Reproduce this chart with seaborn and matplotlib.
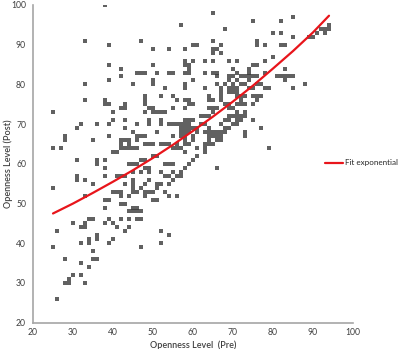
import numpy as np
import pandas as pd
import matplotlib
matplotlib.use('Agg')
import matplotlib.pyplot as plt
import seaborn as sns

#---------------------------------------------------------
f_out='out.png'
clr_pt='#3a3a3a'
clr_fit='#e8151b'
clr_axis='#a6a6a6'
clr_txt='#404040'

#points (pre, post)
pts=[
	(25,73),(25,64),(25,54),(25,39),(26,43),(26,26),(27,64),(28,67),(28,66),(28,36),(28,30),(29,30),(29,31),(30,45),(30,32),
	(31,69),(31,61),(31,57),(31,56),(32,70),(32,44),(32,40),(32,35),(32,32),(33,91),(33,80),(33,76),(33,56),(33,52),(33,45),
	(33,44),(33,30),(34,46),(34,41),(34,40),(34,34),(35,66),(35,55),(35,46),(35,38),(35,36),
	(36,70),(36,61),(36,60),(36,42),(36,41),(36,36),
	(38,100),(38,76),(38,75),(38,61),(38,59),(38,57),(38,51),(38,49),(38,45),
	(39,90),(39,85),(39,81),(39,75),(39,70),(39,67),(39,51),(39,46),(39,40),
	(40,73),(40,71),(40,63),(40,53),(40,45),(40,41),
	(41,63),(41,57),(41,53),(41,44),
	(42,84),(42,82),(42,74),(42,66),(42,65),(42,64),(42,57),(42,53),(42,52),(42,50),(42,46),
	(43,75),(43,74),(43,71),(43,69),(43,66),(43,64),(43,57),(43,55),(43,50),(43,43),
	(44,66),(44,65),(44,64),(44,60),(44,52),(44,48),(44,46),(44,44),
	(45,80),(45,68),(45,64),(45,60),(45,58),(45,56),(45,55),(45,54),(45,53),(45,49),(45,48),
	(46,83),(46,70),(46,67),(46,66),(46,64),(46,60),(46,53),(46,49),(46,48),(46,46),
	(47,91),(47,83),(47,67),(47,61),(47,58),(47,54),(47,48),(47,46),(47,39),
	(48,83),(48,77),(48,76),(48,75),(48,73),(48,67),(48,65),(48,61),(48,59),(48,55),(48,53),(48,52),
	(49,74),(49,71),(49,70),(49,65),(49,59),(49,58),(49,56),(49,53),
	(50,89),(50,85),(50,81),(50,80),(50,74),(50,73),(50,65),(50,62),(50,53),(50,51),
	(51,83),(51,73),(51,68),(51,62),(51,55),(51,54),(51,51),
	(52,77),(52,73),(52,71),(52,70),(52,65),(52,58),(52,55),(52,43),(52,40),
	(53,79),(53,73),(53,65),(53,60),(53,57),(53,53),
	(54,89),(54,83),(54,70),(54,65),(54,60),(54,57),(54,55),(54,52),(54,42),
	(55,83),(55,77),(55,74),(55,70),(55,67),(55,64),(55,60),(55,58),(55,56),
	(56,76),(56,70),(56,65),(56,64),(56,57),(56,52),
	(57,95),(57,70),(57,69),(57,68),(57,67),(57,64),(57,58),(57,57),
	(58,89),(58,86),(58,85),(58,83),(58,80),(58,79),(58,76),(58,74),(58,71),(58,70),(58,69),(58,68),(58,67),(58,66),(58,65),
	(58,63),(58,59),
	(59,85),(59,84),(59,83),(59,76),(59,75),(59,71),(59,70),(59,69),(59,68),(59,65),(59,60),
	(60,90),(60,86),(60,81),(60,75),(60,71),(60,69),(60,67),(60,66),(60,61),
	(61,90),(61,69),(61,68),(61,64),(61,62),
	(62,72),(62,70),(63,86),(63,83),(63,79),(63,72),(63,70),(63,68),(63,65),
	(63,64),(63,63),(64,77),(64,76),(64,74),(64,72),(64,69),(64,68),(64,67),(64,66),(64,65),(65,98),(65,91),(65,89),(65,88),
	(65,86),(65,83),(65,76),(65,74),(65,73),(65,68),(65,67),(65,65),
	(66,89),(66,83),(66,82),(66,80),(66,74),(66,68),(66,67),(66,66),(66,59),(67,90),(67,88),(67,79),(67,78),(67,77),(67,76),
	(67,70),(67,68),(67,67),(67,66),(68,94),(68,80),(68,75),(68,71),(68,69),(68,68),(69,86),(69,82),(69,81),(69,79),(69,78),
	(69,75),(69,74),(69,72),(69,71),(69,69),(70,84),(70,82),(70,80),(70,79),(70,78),(70,74),(70,72),(70,70),
	(71,86),(71,83),(71,81),(71,79),(71,78),(71,77),(71,75),(71,73),(71,72),(71,71),(71,70),(72,82),(72,80),(72,77),(72,76),
	(72,75),(72,72),(72,71),(73,82),(73,80),(73,77),(73,75),(73,73),(73,72),(73,68),(73,67),(74,84),(74,83),(74,82),(74,81),
	(74,79),(75,96),(75,85),(75,82),(75,79),(75,77),(75,75),(75,71),
	(76,91),(76,90),(76,85),(76,82),(76,80),(76,77),(76,76),(77,80),(77,77),(77,69),(78,90),(78,86),(78,83),(78,79),(79,79),
	(79,64),(80,93),(80,87),
	(81,82),(82,96),(82,93),(82,90),(82,82),(83,90),(83,84),(83,82),(83,81),(84,82),(85,97),(85,92),(85,82),(85,79),(88,80),
	(89,92),(90,92),(91,93),(92,94),(93,94),(93,93),(94,95),(94,94),
]
pre=[p[0] for p in pts]
post=[p[1] for p in pts]

#exponential fit curve
fit_x=[25, 30, 35, 40, 45, 50, 55, 60, 65, 70, 75, 80, 85, 90, 94]
fit_y=[47.5, 50.0, 52.7, 55.5, 58.4, 61.5, 64.8, 68.3, 71.9, 75.7, 79.7, 84.0, 88.4, 93.1, 97.3]

xticks=[20, 30, 40, 50, 60, 70, 80, 90, 100]
yticks=[20, 30, 40, 50, 60, 70, 80, 90, 100]

#--------------------------------------------------------
df=pd.DataFrame({'pre':pre, 'post':post})
df_fit=pd.DataFrame({'x':fit_x, 'y':fit_y})

sns.set_style('white')
plt.rcParams['font.family']=['Lato', 'DejaVu Sans']

fig=plt.figure(figsize=(4, 3.49), dpi=100)
ax=fig.add_axes([0.0825, 0.0754, 0.80, 0.9103])

sns.scatterplot(x='pre', y='post', data=df, ax=ax, marker='s', s=4.8, color=clr_pt, alpha=0.8,
	linewidth=0, antialiased=False)
sns.lineplot(x='x', y='y', data=df_fit, ax=ax, color=clr_fit, linewidth=1.6, label='Fit exponential')

#adjust
ax.set_xlim(20, 100)
ax.set_ylim(20, 100)
ax.set_xticks(xticks)
ax.set_yticks(yticks)
for s in ['top', 'right']:
	ax.spines[s].set_visible(False)
for s in ['left', 'bottom']:
	ax.spines[s].set_color(clr_axis)
	ax.spines[s].set_linewidth(1.2)
ax.tick_params(axis='both', which='major', labelsize=6.2, labelcolor=clr_txt, color=clr_axis,
	direction='out', length=2.5, width=0.8, pad=2.5)
ax.tick_params(axis='x', pad=1.5)
ax.set_xlabel('Openness Level  (Pre)', fontsize=6.5, weight='semibold', color=clr_txt)
ax.set_ylabel('Openness Level (Post)', fontsize=6.5, weight='semibold', color=clr_txt)
ax.xaxis.set_label_coords(0.5, -0.055)
ax.yaxis.set_label_coords(-0.064, 0.5)

ax.legend(loc='center left', bbox_to_anchor=(0.912, 0.503), frameon=False, fontsize=5.8,
	handlelength=2.3, handletextpad=0.2, borderpad=0, borderaxespad=0)

plt.savefig(f_out, dpi=100)
plt.close()
